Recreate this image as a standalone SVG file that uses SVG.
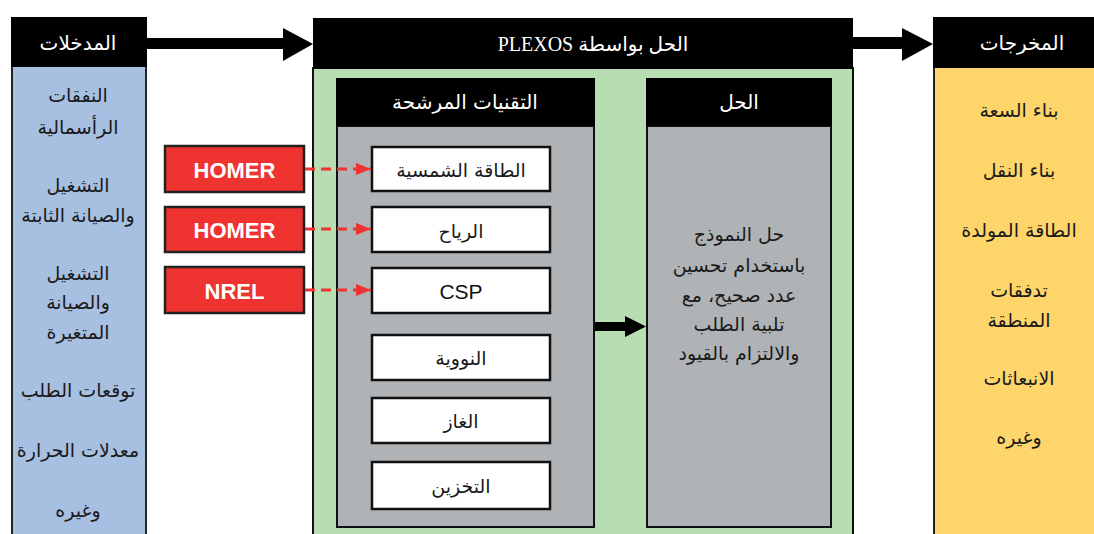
<svg xmlns="http://www.w3.org/2000/svg" width="1094" height="534" viewBox="0 0 1094 534">
<style>
.hdr{fill:#000}
.ar{font-family:'DejaVu Sans',sans-serif;font-size:19px;fill:#1a1a1a;text-anchor:middle;dominant-baseline:central}
.arw{font-family:'DejaVu Sans',sans-serif;font-size:20px;fill:#fff;text-anchor:middle;dominant-baseline:central}
.ser{font-family:'Liberation Serif','DejaVu Sans',serif;font-size:20px;fill:#fff;text-anchor:middle;dominant-baseline:central}
.red{fill:#EE3330;stroke:#222;stroke-width:2.5}
.rt{font-family:'Liberation Sans',Arial,sans-serif;font-weight:bold;font-size:22px;fill:#fff;text-anchor:middle;dominant-baseline:central}
.wb{fill:#fff;stroke:#111;stroke-width:2.5}
.gray{fill:#B0B3B5;stroke:#111;stroke-width:2}
.dash{stroke:#EE3330;stroke-width:3;stroke-dasharray:10 6;fill:none}
</style>
<defs>
<marker id="rh" markerWidth="5" markerHeight="4" refX="5" refY="2" orient="auto" markerUnits="strokeWidth">
<polygon points="0,0 5,2 0,4" fill="#EE3330"/>
</marker>
</defs>
<rect width="1094" height="534" fill="#fff"/>

<g id="inputs">
<rect x="12" y="66" width="134" height="480" fill="#A7BFE1" stroke="#222" stroke-width="2"/>
<rect class="hdr" x="11" y="17" width="136" height="50"/>
<text class="arw" x="78" y="43">المدخلات</text>
<text class="ar" x="78" y="95">النفقات</text>
<text class="ar" x="78" y="127">الرأسمالية</text>
<text class="ar" x="78" y="185">التشغيل</text>
<text class="ar" x="78" y="215">والصيانة الثابتة</text>
<text class="ar" x="78" y="273">التشغيل</text>
<text class="ar" x="78" y="302">والصيانة</text>
<text class="ar" x="78" y="332">المتغيرة</text>
<text class="ar" x="78" y="390">توقعات الطلب</text>
<text class="ar" x="78" y="450">معدلات الحرارة</text>
<text class="ar" x="78" y="510">وغيره</text>
</g>

<g id="plexos">
<rect x="313" y="68" width="540" height="480" fill="#B8DDB3" stroke="#111" stroke-width="2"/>
<rect class="hdr" x="313" y="18" width="540" height="51"/>
<text class="ser" x="593" y="44" direction="rtl">الحل بواسطة PLEXOS</text>
</g>

<g id="candidates">
<rect class="gray" x="337" y="126" width="257" height="401"/>
<rect class="hdr" x="336" y="78" width="259" height="48"/>
<text class="arw" x="465" y="102">التقنيات المرشحة</text>
</g>

<g id="solution">
<rect class="gray" x="647" y="126" width="184" height="401"/>
<rect class="hdr" x="646" y="78" width="186" height="48"/>
<text class="arw" x="739" y="102">الحل</text>
<text class="ar" x="739" y="234">حل النموذج</text>
<text class="ar" x="739" y="265">باستخدام تحسين</text>
<text class="ar" x="739" y="295">عدد صحيح، مع</text>
<text class="ar" x="739" y="324">تلبية الطلب</text>
<text class="ar" x="739" y="353">والالتزام بالقيود</text>
</g>

<g id="outputs">
<rect x="934" y="67" width="180" height="480" fill="#FDD56A" stroke="#222" stroke-width="2"/>
<rect class="hdr" x="933" y="17" width="180" height="51"/>
<text class="arw" x="1022" y="43">المخرجات</text>
<text class="ar" x="1019" y="110">بناء السعة</text>
<text class="ar" x="1019" y="170">بناء النقل</text>
<text class="ar" x="1019" y="230">الطاقة المولدة</text>
<text class="ar" x="1019" y="290">تدفقات</text>
<text class="ar" x="1019" y="320">المنطقة</text>
<text class="ar" x="1019" y="378">الانبعاثات</text>
<text class="ar" x="1019" y="437">وغيره</text>
</g>

<g id="tech-solar"><rect class="wb" x="372" y="147" width="178" height="44"/><text class="ar" x="461" y="170">الطاقة الشمسية</text></g>
<g id="tech-wind"><rect class="wb" x="372" y="207" width="178" height="45"/><text class="ar" x="461" y="231">الرياح</text></g>
<g id="tech-csp"><rect class="wb" x="372" y="268" width="178" height="45"/><text class="rt" style="font-weight:normal;fill:#111;font-size:21px" x="461" y="291">CSP</text></g>
<g id="tech-nuclear"><rect class="wb" x="372" y="335" width="178" height="45"/><text class="ar" x="461" y="358">النووية</text></g>
<g id="tech-gas"><rect class="wb" x="372" y="398" width="178" height="45"/><text class="ar" x="461" y="421">الغاز</text></g>
<g id="tech-storage"><rect class="wb" x="372" y="462" width="178" height="47"/><text class="ar" x="461" y="486">التخزين</text></g>

<g id="src-homer1"><rect class="red" x="165" y="146" width="139" height="46"/><text class="rt" x="234.5" y="170">HOMER</text></g>
<g id="src-homer2"><rect class="red" x="165" y="207" width="139" height="45"/><text class="rt" x="234.5" y="230">HOMER</text></g>
<g id="src-nrel"><rect class="red" x="165" y="267" width="139" height="46"/><text class="rt" x="234.5" y="291">NREL</text></g>

<g id="connectors">
<polygon points="147,38 283,38 283,28 313,44 283,61 283,49 147,49" fill="#000"/>
<polygon points="853,37 902,37 902,28 933,44 902,61 902,49 853,49" fill="#000"/>
<polygon points="595,322 625,322 625,316 646,326.5 625,337 625,331 595,331" fill="#000"/>
<line class="dash" x1="305" y1="169" x2="371" y2="169" marker-end="url(#rh)"/>
<line class="dash" x1="305" y1="229" x2="371" y2="229" marker-end="url(#rh)"/>
<line class="dash" x1="305" y1="290" x2="371" y2="290" marker-end="url(#rh)"/>
</g>
</svg>
